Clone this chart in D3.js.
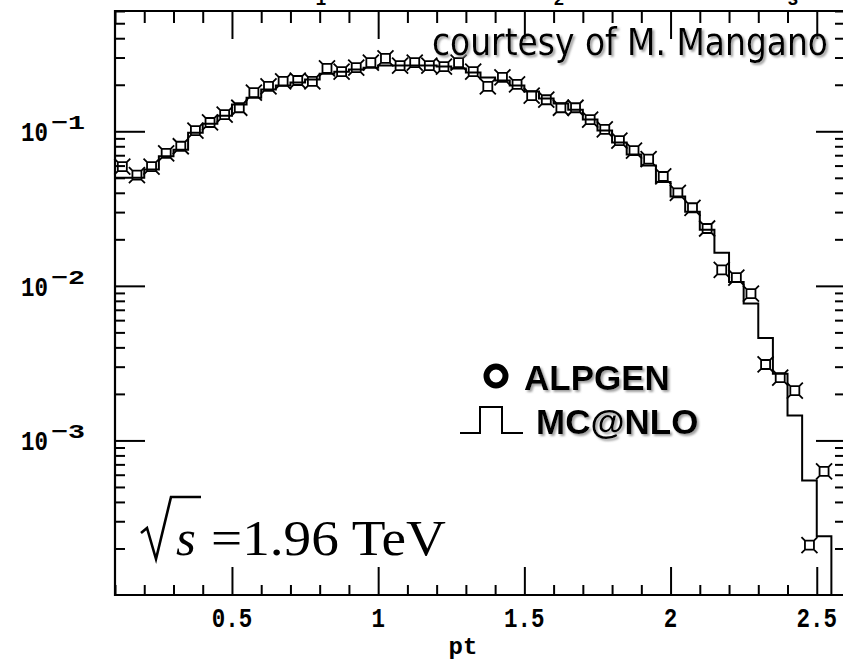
<!DOCTYPE html>
<html>
  <head>
    <title></title>
    <script src="https://cdnjs.cloudflare.com/ajax/libs/d3/7.8.5/d3.min.js"></script>
    <style>
      html, body { margin: 0; background: #fff; overflow: hidden; }
    </style>
  </head>
  <body>
    <script type="text/javascript">

    // ALPGEN points (bin centres) and values
    let alpgenPt = [0.125, 0.175, 0.225, 0.275, 0.325, 0.375, 0.425, 0.475, 0.525, 0.575,
      0.625, 0.675, 0.725, 0.775, 0.825, 0.875, 0.925, 0.975, 1.025, 1.075,
      1.125, 1.175, 1.225, 1.275, 1.325, 1.375, 1.425, 1.475, 1.525, 1.575,
      1.625, 1.675, 1.725, 1.775, 1.825, 1.875, 1.925, 1.975, 2.025, 2.075,
      2.125, 2.175, 2.225, 2.275, 2.325, 2.375, 2.425, 2.475, 2.525]
    let alpgenVal = [0.059, 0.052, 0.059, 0.072, 0.080, 0.101, 0.114, 0.128, 0.142, 0.178,
      0.195, 0.210, 0.213, 0.210, 0.255, 0.243, 0.258, 0.278, 0.296, 0.266,
      0.278, 0.266, 0.262, 0.278, 0.243, 0.195, 0.223, 0.201, 0.170, 0.160,
      0.142, 0.142, 0.119, 0.103, 0.087, 0.075, 0.066, 0.051, 0.040, 0.032,
      0.0235, 0.0127, 0.0113, 0.0089, 0.0031, 0.00255, 0.0021, 0.00021, 0.00063]

    // MC@NLO histogram: bin edges and contents
    let mcnloEdges = [0.10, 0.15, 0.20, 0.25, 0.30, 0.35, 0.40, 0.45, 0.50, 0.55,
      0.60, 0.65, 0.70, 0.75, 0.80, 0.85, 0.90, 0.95, 1.00, 1.05,
      1.10, 1.15, 1.20, 1.25, 1.30, 1.35, 1.40, 1.45, 1.50, 1.55,
      1.60, 1.65, 1.70, 1.75, 1.80, 1.85, 1.90, 1.95, 2.00, 2.05,
      2.10, 2.15, 2.20, 2.25, 2.30, 2.35, 2.40, 2.45, 2.50, 2.55, 2.60]
    let mcnloVal = [0.050, 0.050, 0.0565, 0.069, 0.076, 0.098, 0.112, 0.126, 0.149, 0.165,
      0.186, 0.198, 0.207, 0.216, 0.236, 0.243, 0.251, 0.258, 0.266, 0.266,
      0.266, 0.266, 0.262, 0.255, 0.240, 0.223, 0.213, 0.198, 0.181, 0.163,
      0.151, 0.138, 0.119, 0.101, 0.0845, 0.0707, 0.060, 0.047, 0.0378, 0.0302,
      0.0231, 0.0164, 0.0106, 0.0077, 0.0046, 0.0027, 0.00145, 0.00055, 0.00024, 0]

    let xMajor = [0.5, 1, 1.5, 2, 2.5]
    let xLabels = ["0.5", "1", "1.5", "2", "2.5"]
    let yMajor = [1e-1, 1e-2, 1e-3]
    let yExp = ["\u22121", "\u22122", "\u22123"]
    let xDomain = [0.1, 2.6]
    let yDomain = [1e-4, 0.6]

    let outerWidth = 843;
    let outerHeight = 662;
    let margin = { left: 115, top: 11, right: -3, bottom: 67 }
    let innerWidth = 731;   // 0.1 .. 2.6, right edge sits just off the page
    let innerHeight = outerHeight - margin.top - margin.bottom;

    let svg = d3.select("body").append("svg")
      .attr("width", outerWidth)
      .attr("height", outerHeight)
      .style("display", "block")

    let defs = svg.append("defs");
    defs.append("filter").attr("id", "shadow")
      .attr("x", "-5%").attr("y", "-20%").attr("width", "115%").attr("height", "150%")
      .append("feDropShadow")
      .attr("dx", 2).attr("dy", 2).attr("stdDeviation", 0.8)
      .attr("flood-color", "#888").attr("flood-opacity", 0.8);

    let g = svg.append("g")
      .attr("transform", "translate(" + margin.left + "," + margin.top + ")");

    let xScale = d3.scaleLinear().domain(xDomain).range([0, innerWidth]);
    let yScale = d3.scaleLog().domain(yDomain).range([innerHeight, 0]);

    let xMinor = xScale.ticks(25).filter(v => xMajor.indexOf(+v.toFixed(2)) < 0 && v < 2.59);
    let yMinor = yScale.ticks().filter(v => yMajor.concat([1e-4]).indexOf(v) < 0);

    function styleAxis(sel, w) {
      sel.select(".domain").remove();
      sel.selectAll(".tick line").attr("stroke", "#000").attr("stroke-width", w);
      sel.selectAll("text").remove();
    }

    // ticks on all four sides, pointing inward
    g.append("g").attr("transform", "translate(0," + innerHeight + ")")
      .call(d3.axisBottom(xScale).tickValues(xMinor).tickSize(-10)).call(styleAxis, 2);
    g.append("g").attr("transform", "translate(0," + innerHeight + ")")
      .call(d3.axisBottom(xScale).tickValues(xMajor).tickSize(-28)).call(styleAxis, 2);
    g.append("g")
      .call(d3.axisTop(xScale).tickValues(xMinor).tickSize(-12)).call(styleAxis, 2);
    g.append("g")
      .call(d3.axisTop(xScale).tickValues(xMajor).tickSize(-28)).call(styleAxis, 2);
    g.append("g")
      .call(d3.axisLeft(yScale).tickValues(yMinor).tickSize(-10)).call(styleAxis, 2);
    g.append("g")
      .call(d3.axisLeft(yScale).tickValues(yMajor).tickSize(-30)).call(styleAxis, 2);
    g.append("g").attr("transform", "translate(" + innerWidth + ",0)")
      .call(d3.axisRight(yScale).tickValues(yMinor).tickSize(-11)).call(styleAxis, 2);
    g.append("g").attr("transform", "translate(" + innerWidth + ",0)")
      .call(d3.axisRight(yScale).tickValues(yMajor).tickSize(-30)).call(styleAxis, 2);

    // frame: left, top and bottom edges (the right one falls outside the page)
    g.append("path")
      .attr("d", d3.line()([[innerWidth + 4, 0], [0, 0], [0, innerHeight], [innerWidth + 4, innerHeight]]))
      .attr("fill", "none").attr("stroke", "#000").attr("stroke-width", 2.2);

    // tick labels
    let tickFont = "'Liberation Mono', 'DejaVu Sans Mono', monospace";
    g.selectAll(".xlab").data(xMajor).enter().append("text")
      .attr("x", d => xScale(d))
      .attr("y", innerHeight + 32)
      .attr("text-anchor", "middle")
      .attr("font-family", tickFont).attr("font-size", 27).attr("font-weight", "bold")
      .attr("textLength", (d, i) => xLabels[i].length * 13.5)
      .attr("lengthAdjust", "spacingAndGlyphs")
      .text((d, i) => xLabels[i]);

    g.selectAll(".ylab").data(yMajor).enter().append("text")
      .attr("x", -94)
      .attr("y", d => yScale(d) + 10)
      .attr("font-family", tickFont).attr("font-weight", "bold")
      .attr("font-size", 28).attr("textLength", 27)
      .attr("lengthAdjust", "spacingAndGlyphs").text("10");
    g.selectAll(".yexp").data(yMajor).enter().append("text")
      .attr("x", -64)
      .attr("y", d => yScale(d) - 2)
      .attr("font-family", tickFont).attr("font-weight", "bold")
      .attr("font-size", 20).attr("textLength", 34)
      .attr("lengthAdjust", "spacingAndGlyphs")
      .text((d, i) => yExp[i]);

    svg.append("text")
      .attr("x", margin.left + xScale(1.29)).attr("y", 654)
      .attr("text-anchor", "middle")
      .attr("font-family", tickFont).attr("font-size", 24).attr("font-weight", "bold")
      .text("pt");

    // cut-off title remnants at the very top
    svg.selectAll(".cut").data([1, 2, 3]).enter().append("text")
      .attr("x", (d, i) => [321, 559, 793][i]).attr("y", 5)
      .attr("text-anchor", "middle")
      .attr("font-family", tickFont).attr("font-size", 18).attr("font-weight", "bold")
      .text(d => d);

    // MC@NLO histogram
    let histPts = [];
    mcnloVal.forEach(function(v, i) {
      let yy = v > 0 ? yScale(v) : innerHeight;
      histPts.push([xScale(mcnloEdges[i]), yy]);
      histPts.push([xScale(mcnloEdges[i + 1]), yy]);
    });
    g.append("path")
      .attr("d", d3.line()(histPts))
      .attr("fill", "none").attr("stroke", "#000").attr("stroke-width", 2);

    // ALPGEN markers
    let h = 4.5, s = 3.5;
    let markerPath = "M" + (-h) + "," + (-h) + "h" + (2 * h) + "v" + (2 * h) + "h" + (-2 * h) + "Z" +
      "M" + (-h) + "," + (-h) + "l" + (-s) + "," + (-s) +
      "M" + h + "," + (-h) + "l" + s + "," + (-s) +
      "M" + h + "," + h + "l" + s + "," + s +
      "M" + (-h) + "," + h + "l" + (-s) + "," + s;
    g.selectAll(".pt").data(alpgenPt).enter().append("path")
      .attr("transform", (d, i) => "translate(" + xScale(d) + "," + yScale(alpgenVal[i]) + ")")
      .attr("d", markerPath)
      .attr("fill", "none").attr("stroke", "#000").attr("stroke-width", 1.8);

    // courtesy note
    svg.append("text")
      .attr("x", 432).attr("y", 55)
      .attr("font-family", "'DejaVu Sans', sans-serif").attr("font-size", 37)
      .attr("textLength", 396).attr("lengthAdjust", "spacingAndGlyphs")
      .attr("filter", "url(#shadow)")
      .text("courtesy of M. Mangano");

    // legend
    svg.append("circle").attr("cx", 496).attr("cy", 376).attr("r", 9.5)
      .attr("fill", "none").attr("stroke", "#000").attr("stroke-width", 6);
    svg.append("text").attr("x", 524).attr("y", 390)
      .attr("font-family", "'Liberation Sans', Arial, sans-serif")
      .attr("font-size", 35).attr("font-weight", "bold")
      .attr("filter", "url(#shadow)").text("ALPGEN");
    svg.append("path")
      .attr("d", d3.line()([[460, 433], [480, 433], [480, 407], [502, 407], [502, 433], [523, 433]]))
      .attr("fill", "none").attr("stroke", "#000").attr("stroke-width", 2);
    svg.append("text").attr("x", 536).attr("y", 434)
      .attr("font-family", "'Liberation Sans', Arial, sans-serif")
      .attr("font-size", 35).attr("font-weight", "bold")
      .attr("filter", "url(#shadow)").text("MC@NLO");

    // sqrt(s) = 1.96 TeV
    svg.append("path")
      .attr("d", "M141,533 L147,528 L156,559 L171,497 L201,497")
      .attr("fill", "none").attr("stroke", "#000").attr("stroke-width", 2.6)
      .attr("stroke-linejoin", "miter");
    svg.append("text").attr("x", 176).attr("y", 555)
      .attr("font-family", "'Liberation Serif', serif").attr("font-style", "italic")
      .attr("font-size", 51).text("s");
    svg.append("text").attr("x", 211).attr("y", 555)
      .attr("font-family", "'Liberation Serif', serif").attr("font-size", 51)
      .attr("textLength", 235).attr("lengthAdjust", "spacingAndGlyphs")
      .text("=1.96 TeV");

    </script>
  </body>
</html>
